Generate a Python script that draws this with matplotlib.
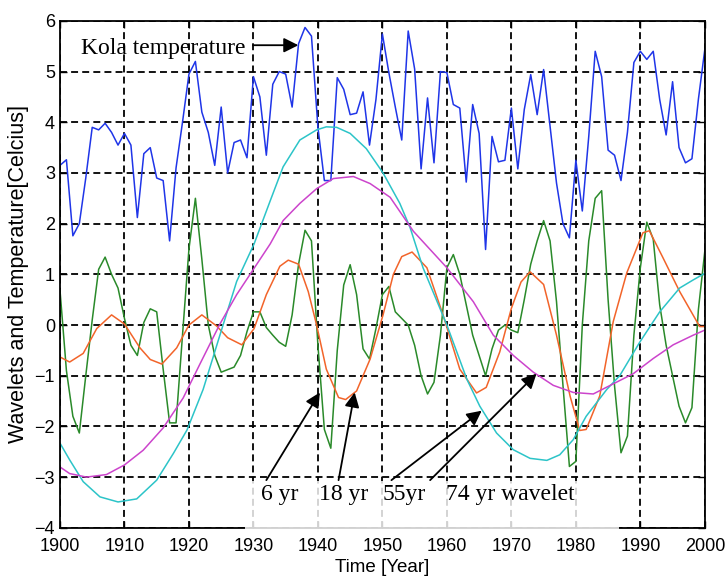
import matplotlib
matplotlib.use('Agg')
import matplotlib.pyplot as plt
from matplotlib.patches import Rectangle
import numpy as np

plt.rcParams['font.family'] = ['Liberation Sans', 'DejaVu Sans']
plt.rcParams['lines.scale_dashes'] = False

# Kola temperature, yearly 1900..2000
years = np.arange(1900, 2001)
kola = [3.15, 3.26, 1.76, 2.0, 2.9, 3.9, 3.85, 3.98, 3.8, 3.55,
        3.78, 3.55, 2.12, 3.38, 3.5, 2.9, 2.85, 1.66, 3.1, 4.0,
        4.95, 5.2, 4.2, 3.8, 3.15, 4.3, 3.0, 3.6, 3.65, 3.3,
        4.9, 4.5, 3.35, 4.75, 5.0, 4.95, 4.3, 5.55, 5.87, 5.7,
        3.9, 2.85, 2.85, 4.88, 4.65, 4.15, 4.18, 4.6, 3.55, 4.45,
        5.74, 4.98, 4.3, 3.65, 5.8, 5.05, 3.08, 4.48, 3.2, 5.0,
        4.98, 4.35, 4.28, 2.82, 4.35, 3.78, 1.49, 3.72, 3.22, 3.25,
        4.28, 3.08, 4.25, 4.94, 4.15, 5.04, 3.92, 2.8, 2.0, 1.72,
        3.25, 2.25, 3.72, 5.4, 4.9, 3.45, 3.35, 2.85, 3.8, 5.18,
        5.4, 5.24, 5.4, 4.45, 3.75, 4.8, 3.5, 3.2, 3.28, 4.45,
        5.44]

# 6 yr wavelet, yearly
w6 = [0.69, -0.9, -1.8, -2.13, -1.0, 0.1, 1.1, 1.34, 1.0, 0.73,
      0.13, -0.4, -0.6, 0.05, 0.32, 0.26, -0.87, -1.93, -1.93, -0.2,
      1.5, 2.5, 1.3, 0.0, -0.6, -0.93, -0.88, -0.83, -0.6, -0.13,
      0.26, 0.26, -0.05, -0.2, -0.34, -0.42, 0.2, 1.2, 1.87, 1.66,
      -0.4, -2.06, -2.43, -0.5, 0.79, 1.19, 0.6, -0.47, -0.67, -0.07,
      0.6, 0.76, 0.26, 0.13, 0.0, -0.4, -1.0, -1.36, -1.13, -0.2,
      1.13, 1.39, 1.0, 0.4, -0.2, -0.6, -1.0, -0.47, -0.1, 0.0,
      -0.1, -0.15, 0.5, 1.2, 1.66, 2.06, 1.66, 0.46, -1.19, -2.79,
      -2.69, 0.0, 1.66, 2.5, 2.65, 0.5, -1.2, -2.52, -2.19, -0.2,
      1.13, 2.03, 1.69, 0.4, -0.4, -1.0, -1.6, -1.93, -1.63, 0.3,
      1.46]

# 18 yr wavelet
yr18 = [1900, 1901.5, 1903.6, 1905.7, 1908, 1910, 1912.4, 1914, 1915.8, 1918.1,
        1920, 1922, 1924.3, 1926, 1928.2, 1930.1, 1932, 1934.1, 1935.4, 1937,
        1938.5, 1939.8, 1941.3, 1943.2, 1944.3, 1946, 1948.1, 1950.1, 1951.7, 1953,
        1954.6, 1956.9, 1959.4, 1962, 1964.6, 1966.1, 1968.2, 1970, 1971.5, 1972.9,
        1975, 1977, 1979.1, 1980.6, 1981.6, 1983.7, 1985.8, 1987.9, 1990.4, 1991.4,
        1993.5, 1996.1, 1997.9, 1999.2, 2000]
w18 = [-0.63, -0.73, -0.56, -0.07, 0.2, 0.02, -0.45, -0.68, -0.77, -0.45,
       0.0, 0.2, -0.02, -0.25, -0.39, -0.07, 0.6, 1.16, 1.28, 1.2,
       0.66, 0.0, -0.87, -1.43, -1.47, -1.3, -0.67, 0.2, 1.0, 1.35,
       1.44, 1.13, 0.2, -0.87, -1.34, -1.23, -0.53, 0.33, 0.85, 1.05,
       0.8, -0.2, -1.4, -2.08, -2.06, -1.4, 0.07, 1.03, 1.82, 1.86,
       1.33, 0.66, 0.26, -0.03, -0.03]

# 55 yr wavelet
yr55 = [1900, 1901.5, 1903.6, 1906.2, 1909, 1911.9, 1915, 1917.6, 1919.7, 1922.2,
        1924.8, 1927.4, 1930.1, 1932.6, 1934.6, 1937.2, 1939.8, 1941.3, 1942.9, 1945,
        1947.5, 1950.1, 1952.7, 1954.3, 1956.3, 1960, 1963.1, 1965.1, 1967.7, 1970.3,
        1972.9, 1975.5, 1977.5, 1979.6, 1981.6, 1984.8, 1986.8, 1989.9, 1993, 1996.1,
        1998.2, 2000]
w55 = [-2.33, -2.66, -3.09, -3.39, -3.49, -3.43, -3.06, -2.53, -2.07, -1.27,
       -0.2, 0.86, 1.6, 2.45, 3.12, 3.65, 3.85, 3.91, 3.9, 3.78,
       3.48, 3.0, 2.4, 1.92, 1.13, 0.0, -1.07, -1.6, -2.13, -2.46,
       -2.63, -2.67, -2.56, -2.26, -1.8, -1.27, -1.0, -0.34, 0.26, 0.73,
       0.89, 1.02]

# 74 yr wavelet
yr74 = [1900, 1901.5, 1904.1, 1907.2, 1910, 1912.9, 1916, 1919.1, 1921.7, 1924.8,
        1927.4, 1930, 1932.6, 1934.6, 1937.2, 1939.8, 1942.4, 1945.5, 1948.1, 1951.2,
        1954.8, 1960, 1964.1, 1967.2, 1970.3, 1973.4, 1976.5, 1979.6, 1982.7, 1985.8,
        1988.9, 1992, 1995.1, 1998.2, 2000]
w74 = [-2.8, -2.93, -3.0, -2.95, -2.76, -2.47, -2.03, -1.44, -0.77, 0.02,
       0.6, 1.1, 1.6, 2.06, 2.4, 2.69, 2.89, 2.93, 2.79, 2.52,
       1.85, 1.13, 0.46, -0.2, -0.6, -0.93, -1.19, -1.33, -1.36, -1.16,
       -0.96, -0.66, -0.39, -0.2, -0.1]

fig = plt.figure(figsize=(7.27, 5.80), dpi=100)
ax = fig.add_axes([0.0825, 0.09, 0.887, 0.874])

lw = 1.1
ax.plot(years, kola, color='#1f35e8', lw=lw)
ax.plot(years, w6, color='#2a8a2a', lw=lw)
ax.plot(yr18, w18, color='#f2642a', lw=lw)
ax.plot(yr55, w55, color='#2cc4c8', lw=lw)
ax.plot(yr74, w74, color='#cc44cc', lw=lw)

ax.set_xlim(1900, 2000)
ax.set_ylim(-4, 6)
ax.set_xticks(np.arange(1900, 2001, 10))
ax.set_yticks(np.arange(-4, 7, 1))
ax.set_axisbelow(True)
ax.grid(True, color='black', lw=1.3, linestyle=(0, (5, 3)))
ax.tick_params(direction='in', length=5, width=1, labelsize=13,
               top=True, right=True, colors='black')
ax.tick_params(axis='x', pad=7)
for s in ax.spines.values():
    s.set_linewidth(1.3)

ax.set_xlabel('Time [Year]', fontsize=13.5, labelpad=3)
ax.set_ylabel('Wavelets and Temperature[Celcius]', fontsize=15.5, labelpad=4)

serif = ['Liberation Serif', 'DejaVu Serif']

# white label box at the bottom
ax.add_patch(Rectangle((1928.7, -4.12), 58.0, 1.05, facecolor='white',
                       edgecolor='none', alpha=0.82, zorder=3, clip_on=False))

ax.text(1903.3, 5.45, 'Kola temperature', family=serif, fontsize=17,
        va='center', ha='left', zorder=4)
ax.annotate('', xy=(1937.4, 5.52), xytext=(1929.5, 5.52),
            arrowprops=dict(arrowstyle='-|>', color='black', lw=1.3,
                            mutation_scale=22), zorder=4)

ax.text(1931.2, -3.35, '6 yr', family=serif, fontsize=17, va='center', zorder=4)
ax.text(1940.1, -3.35, '18 yr', family=serif, fontsize=17, va='center', zorder=4)
ax.text(1950.0, -3.35, '55yr', family=serif, fontsize=17, va='center', zorder=4)
ax.text(1959.9, -3.35, '74 yr wavelet', family=serif, fontsize=17, va='center', zorder=4)

arrows = [((1932.0, -3.06), (1940.3, -1.33)),
          ((1943.2, -3.06), (1945.7, -1.33)),
          ((1951.4, -3.06), (1965.4, -1.69)),
          ((1957.4, -3.06), (1973.9, -0.96))]
for tail, head in arrows:
    ax.annotate('', xy=head, xytext=tail,
                arrowprops=dict(arrowstyle='-|>', color='black', lw=1.3,
                                mutation_scale=22, shrinkA=0, shrinkB=0),
                zorder=4)

fig.savefig('out.png', dpi=100)
